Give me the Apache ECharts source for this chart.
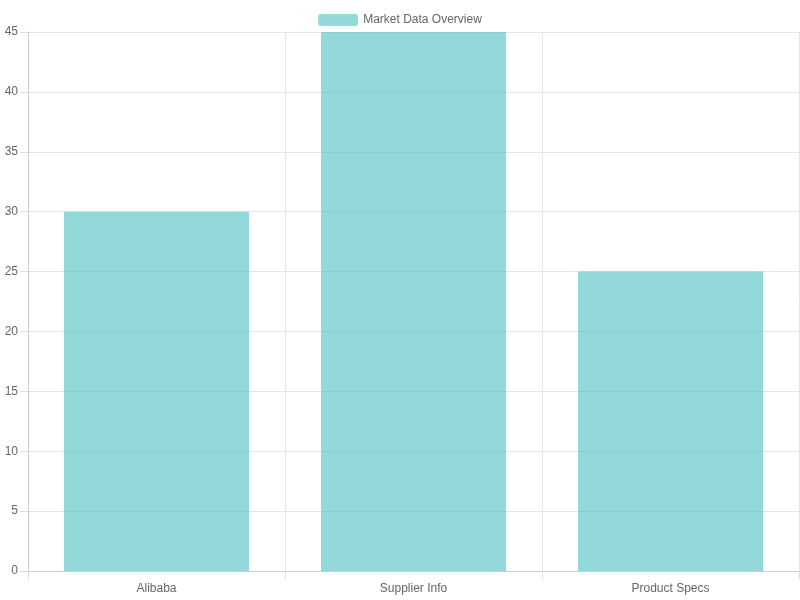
<!DOCTYPE html>
<html><head><meta charset="utf-8">
<script src="https://cdn.jsdelivr.net/npm/echarts@6/dist/echarts.min.js"></script>
<style>html,body{margin:0;padding:0;background:#fff}#c{width:800px;height:600px}</style>
</head><body><div id="c"></div>
<script>
const categories = ["Alibaba", "Supplier Info", "Product Specs"];
const values = [30, 45, 25];
const seriesName = "Market Data Overview";
const chart = echarts.init(document.getElementById('c'));
chart.setOption({
  animation: false,
  textStyle: {fontFamily: "Liberation Sans, Arial, sans-serif"},
  legend: {top: 9, left: 'center', itemWidth: 40, itemHeight: 12, itemGap: 10,
    textStyle: {color: '#666', fontSize: 12}, data: [seriesName]},
  grid: {left: 28, right: 1, top: 32, bottom: 29, containLabel: false},
  xAxis: {type: 'category', data: categories,
    axisLine: {lineStyle: {color: '#ccc'}},
    axisTick: {show: true, length: 8, lineStyle: {color: '#ddd'}},
    splitLine: {show: true, lineStyle: {color: '#e5e5e5'}},
    axisLabel: {color: '#666', fontSize: 12, margin: 12}},
  yAxis: {type: 'value', min: 0, max: 45, interval: 5,
    axisLine: {show: true, lineStyle: {color: '#ccc'}},
    axisTick: {show: true, length: 8, lineStyle: {color: '#ddd'}},
    splitLine: {lineStyle: {color: '#e5e5e5'}},
    axisLabel: {color: '#666', fontSize: 12, margin: 10}},
  series: [{name: seriesName, type: 'bar', data: values, barWidth: '72%',
    itemStyle: {color: 'rgba(75,192,192,0.6)'}}]
});
</script></body></html>
